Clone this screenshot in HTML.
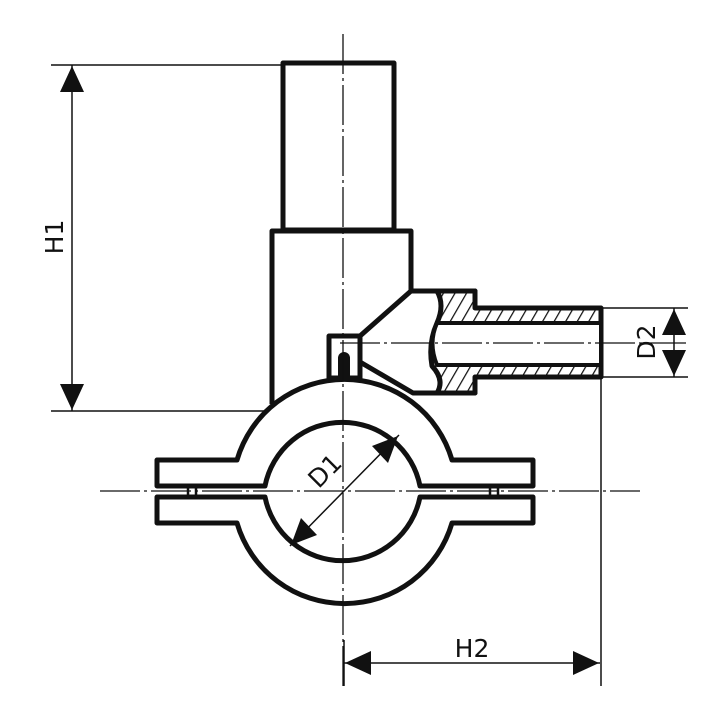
<!DOCTYPE html>
<html><head><style>html,body{margin:0;padding:0;background:#fff}svg{display:block}</style></head>
<body>
<svg width="720" height="717" viewBox="0 0 720 717" xmlns="http://www.w3.org/2000/svg">
<defs>
<pattern id="h" patternUnits="userSpaceOnUse" width="10" height="10" patternTransform="rotate(30)">
<rect width="10" height="10" fill="#fff"/><line x1="0" y1="0" x2="0" y2="10" stroke="#111" stroke-width="2.5"/>
</pattern>
</defs>
<g stroke="#111" fill="none">
<g stroke-width="1.5">
<line x1="51" y1="65" x2="283" y2="65"/>
<line x1="51" y1="411" x2="330" y2="411"/>
<line x1="72" y1="65" x2="72" y2="411"/>
<line x1="601" y1="308" x2="688" y2="308"/>
<line x1="601" y1="377" x2="688" y2="377"/>
<line x1="674" y1="308" x2="674" y2="377"/>
<line x1="601" y1="377" x2="601" y2="686"/>
<line x1="344" y1="640" x2="344" y2="686"/>
<line x1="344" y1="663" x2="600" y2="663"/>
</g>
</g>
<g stroke="#111" stroke-width="5" fill="#fff" stroke-linejoin="round">
<rect x="283" y="63" width="111" height="167"/>
<path d="M272,404 L272,231 L411,231 L411,291 L360,336 L360,362 L413,393 L475,393 L475,291 L411,291"/>
<path d="M437,291 L475,291 L475,308 L601,308 L601,377 L475,377 L475,393 L437,393 Q445,380 432,366 Q428,343 437,323 Q445,305 437,291 Z" fill="url(#h)"/>
<path d="M437,323 L601,323 L601,365 L437,365 Q428,343 437,323 Z" fill="#fff" stroke-width="4"/>
<path d="M237,460 A112,112 0 0 1 452,460 L533,460 L533,486 L420,486 A79,79 0 0 0 265,486 L157,486 L157,460 Z"/>
<path d="M237,523 A112,112 0 0 0 452,523 L533,523 L533,497 L420,497 A79,79 0 0 1 265,497 L157,497 L157,523 Z"/>
<rect x="329" y="336" width="31" height="42"/>
</g>
<path d="M338,378 L338,358 A6,6 0 0 1 350,358 L350,378 Z" fill="#111"/>
<g stroke="#111" stroke-width="2.5" fill="none">
<rect x="188" y="486" width="8" height="11"/><rect x="490" y="486" width="8" height="11"/>
</g>
<g stroke="#111" stroke-width="1.3" stroke-dasharray="40,4,3,4" fill="none">
<line x1="343" y1="34" x2="343" y2="690"/>
<line x1="100" y1="491" x2="640" y2="491"/>
<line x1="340" y1="343" x2="690" y2="343"/>
</g>
<line x1="290" y1="546" x2="399" y2="435" stroke="#111" stroke-width="1.5"/>
<g fill="#111">
<polygon points="72,66 60,92 84,92"/>
<polygon points="72,410 60,384 84,384"/>
<polygon points="674,309 662,335 686,335"/>
<polygon points="674,376 662,350 686,350"/>
<polygon points="345,663 371,651 371,675"/>
<polygon points="599,663 573,651 573,675"/>
<polygon points="398,436 372,446 388,463"/>
<polygon points="291,545 317,535 301,518"/>
</g>
<g font-family="DejaVu Sans, sans-serif" font-size="25" fill="#111">
<text x="472" y="657" text-anchor="middle">H2</text>
<text transform="translate(63,237) rotate(-90)" text-anchor="middle">H1</text>
<text transform="translate(655,342) rotate(-90)" text-anchor="middle">D2</text>
<text transform="translate(331,477) rotate(-45)" text-anchor="middle">D1</text>
</g>
</svg>
</body></html>
